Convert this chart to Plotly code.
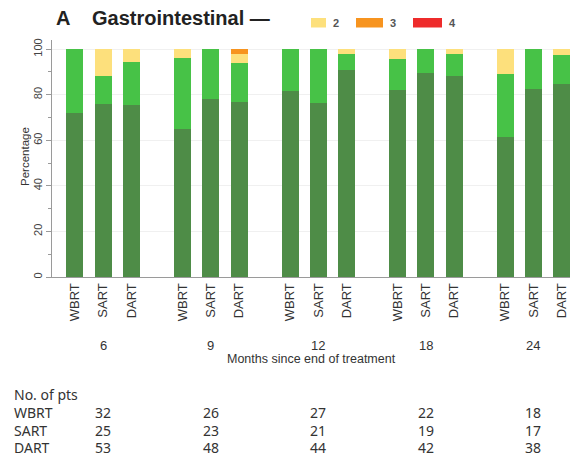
import plotly.graph_objects as go

# ---------------- data ----------------
months = ["6", "9", "12", "18", "24"]
arms = ["WBRT", "SART", "DART"]
grade_names = ["0", "1", "2", "3", "4"]

# percentages per bar, order: for each month -> WBRT, SART, DART
grade0 = [72, 76, 75.5, 65, 78, 77, 81.5, 76.5, 91, 82, 89.5, 88, 61.5, 82.5, 84.5]
grade1 = [28, 12, 19, 31, 22, 17, 18.5, 23.5, 7, 13.5, 10.5, 10, 27.5, 17.5, 13]
grade2 = [0, 12, 5.5, 4, 0, 4, 0, 0, 2, 4.5, 0, 2, 11, 0, 2.5]
grade3 = [0, 0, 0, 0, 0, 2, 0, 0, 0, 0, 0, 0, 0, 0, 0]
grade4 = [0, 0, 0, 0, 0, 0, 0, 0, 0, 0, 0, 0, 0, 0, 0]

n_wbrt = [32, 26, 27, 22, 18]
n_sart = [25, 23, 21, 19, 17]
n_dart = [53, 48, 44, 42, 38]

colors = ["#4e8c47", "#47c247", "#fde07c", "#f7941f", "#ee2b2b"]

# ---------------- layout helpers ----------------
W, H = 570, 459
ML, MR, MT, MB = 52, 0, 40, 182
PW, PH = W - ML - MR, H - MT - MB
GROUP_STEP = 3.8
XR = [-0.81, 17.49]
YR = [0, 104]

def px2px(xp):
    return (xp - ML) / PW

def py2py(yp):
    return (H - MB - yp) / PH

xpos = []
xlab = []
for g, m in enumerate(months):
    for i, a in enumerate(arms):
        xpos.append(g * GROUP_STEP + i)
        xlab.append(a)

fig = go.Figure()
for name, vals, col in zip(grade_names, [grade0, grade1, grade2, grade3, grade4], colors):
    fig.add_trace(go.Bar(x=xpos, y=vals, name=name, marker=dict(color=col, line=dict(width=0)),
                         width=0.6, showlegend=False))

fig.update_layout(
    barmode="stack",
    width=W, height=H,
    margin=dict(l=ML, r=MR, t=MT, b=MB),
    paper_bgcolor="white", plot_bgcolor="white",
    font=dict(family="Arial, Liberation Sans, sans-serif", color="#333"),
)
fig.update_xaxes(range=XR, tickmode="array", tickvals=xpos, ticktext=xlab, tickangle=-90,
                 tickfont=dict(size=13, color="#333"), showline=True, linecolor="#9a9a9a",
                 linewidth=1, ticks="", showgrid=False, zeroline=False)
fig.update_yaxes(range=YR, tickvals=[0, 20, 40, 60, 80, 100], tickangle=-90,
                 tickfont=dict(size=11, color="#444"), showline=True, linecolor="#9a9a9a",
                 ticks="outside", ticklen=5, tickcolor="#9a9a9a",
                 minor=dict(dtick=10, ticks="outside", ticklen=3, tickcolor="#9a9a9a", showgrid=False),
                 showgrid=True, gridcolor="#f0f0f0", zeroline=False)

ann = []
# group labels
for g, m in enumerate(months):
    ann.append(dict(x=g * GROUP_STEP + 1, y=py2py(345), xref="x", yref="paper", text=m,
                    showarrow=False, font=dict(size=13, color="#333"), xanchor="center", yanchor="middle"))
ann.append(dict(x=px2px(311), y=py2py(359), xref="paper", yref="paper",
                text="Months since end of treatment", showarrow=False,
                font=dict(size=12.5, color="#333"), xanchor="center", yanchor="middle"))
ann.append(dict(x=px2px(25), y=py2py(157), xref="paper", yref="paper", text="Percentage",
                textangle=-90, showarrow=False, font=dict(size=11.5, color="#333"),
                xanchor="center", yanchor="middle"))

# title
ann.append(dict(x=px2px(54), y=py2py(18), xref="paper", yref="paper", text="<b>A</b>",
                showarrow=False, font=dict(size=20, color="#222"), xanchor="left", yanchor="middle"))
ann.append(dict(x=px2px(90), y=py2py(18), xref="paper", yref="paper", text="<b>Gastrointestinal —</b>",
                showarrow=False, font=dict(size=20, color="#222"), xanchor="left", yanchor="middle"))

# legend swatches
shapes = []
leg = [("2", colors[2], 311, 326, 331), ("3", colors[3], 356, 383, 388), ("4", colors[4], 413, 442, 447)]
for lab, col, x0, x1, tx in leg:
    shapes.append(dict(type="rect", xref="paper", yref="paper", x0=px2px(x0), x1=px2px(x1),
                       y0=py2py(27.5), y1=py2py(18), fillcolor=col, line=dict(width=0)))
    ann.append(dict(x=px2px(tx), y=py2py(22.7), xref="paper", yref="paper", text="<b>" + lab + "</b>",
                    showarrow=False, font=dict(size=11, color="#555"), xanchor="left", yanchor="middle"))

# table
tfont = dict(family="Noto Sans, sans-serif", size=14, color="#333")
ann.append(dict(x=px2px(12), y=py2py(394), xref="paper", yref="paper", text="No. of pts",
                showarrow=False, font=tfont, xanchor="left", yanchor="middle"))
for row, (arm, vals) in enumerate(zip(arms, [n_wbrt, n_sart, n_dart])):
    yp = 412 + row * 18
    ann.append(dict(x=px2px(12), y=py2py(yp), xref="paper", yref="paper", text=arm,
                    showarrow=False, font=tfont, xanchor="left", yanchor="middle"))
    for g, v in enumerate(vals):
        ann.append(dict(x=g * GROUP_STEP + 1, y=py2py(yp), xref="x", yref="paper", text=str(v),
                        showarrow=False, font=tfont, xanchor="center", yanchor="middle"))

fig.update_layout(annotations=ann, shapes=shapes)
fig.write_html("out.html", config={"displayModeBar": False},
               post_script="document.body.style.margin='0';")
